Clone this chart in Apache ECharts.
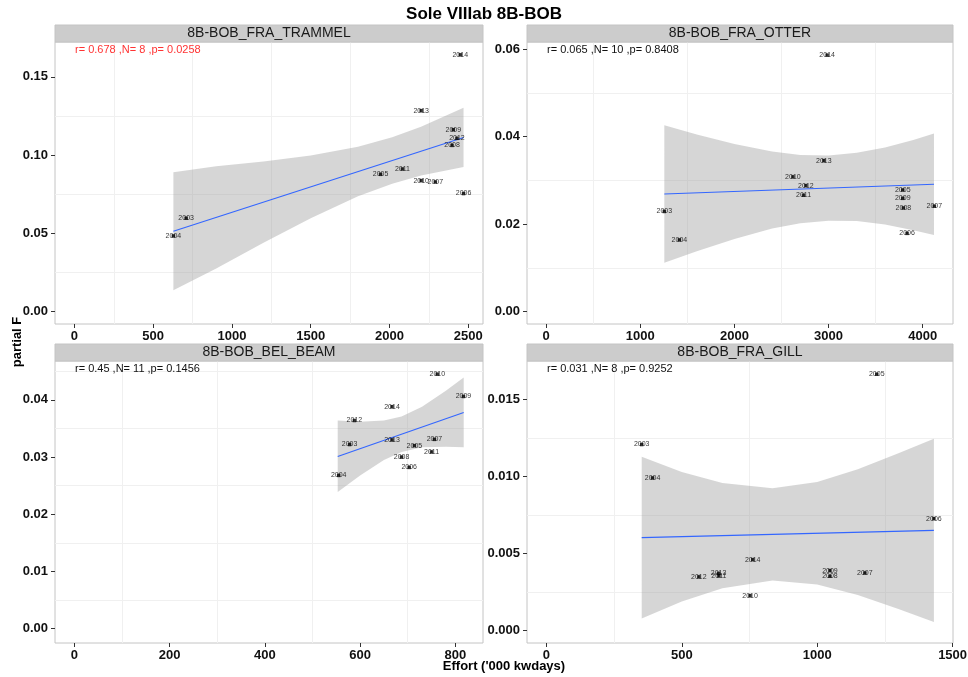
<!DOCTYPE html>
<html>
<head>
<meta charset="utf-8">
<script src="https://cdn.jsdelivr.net/npm/echarts@6/dist/echarts.min.js"></script>
<style>
  html, body { margin: 0; padding: 0; background: #ffffff; }
  #chart { width: 968px; height: 677px; }
</style>
</head>
<body>
<div id="chart"></div>
<script>
// ---- Facet titles and fit statistics ----
const panelNames = ['8B-BOB_FRA_TRAMMEL', '8B-BOB_FRA_OTTER', '8B-BOB_BEL_BEAM', '8B-BOB_FRA_GILL'];
const statTexts = [
  'r= 0.678 ,N= 8 ,p= 0.0258',
  'r= 0.065 ,N= 10 ,p= 0.8408',
  'r= 0.45 ,N= 11 ,p= 0.1456',
  'r= 0.031 ,N= 8 ,p= 0.9252'
];
const statSignificant = [true, false, false, false];

const years = [2003, 2004, 2005, 2006, 2007, 2008, 2009, 2010, 2011, 2012, 2013, 2014];

// ---- 8B-BOB_FRA_TRAMMEL ----
const trammelEffort = [709, 628, 1943, 2470, 2291, 2397, 2405, 2201, 2082, 2428, 2201, 2449];
const trammelF      = [0.0596, 0.0483, 0.0877, 0.0754, 0.0828, 0.1062, 0.1162, 0.0837, 0.0911, 0.1107, 0.1284, 0.1641];
const trammelFitX   = [628, 2470];
const trammelFitY   = [0.0513, 0.1113];
const trammelBandX  = [628, 900, 1200, 1500, 1800, 2017, 2200, 2470];
const trammelBandLo = [0.0136, 0.0275, 0.0439, 0.0596, 0.0736, 0.0816, 0.0869, 0.0923];
const trammelBandHi = [0.0890, 0.0929, 0.0959, 0.0998, 0.1054, 0.1114, 0.1181, 0.1303];

// ---- 8B-BOB_FRA_OTTER ----
const otterEffort = [1255, 1415, 3788, 3834, 4124, 3795, 3788, 2621, 2734, 2759, 2950, 2985];
const otterF      = [0.0229, 0.0164, 0.0278, 0.0179, 0.0241, 0.0237, 0.0259, 0.0308, 0.0266, 0.0288, 0.0345, 0.0586];
const otterFitX   = [1255, 4120];
const otterFitY   = [0.0269, 0.0291];
const otterBandX  = [1255, 1600, 2000, 2400, 2700, 3000, 3300, 3600, 3900, 4120];
const otterBandLo = [0.0112, 0.0138, 0.0166, 0.0190, 0.0202, 0.0208, 0.0207, 0.0199, 0.0186, 0.0175];
const otterBandHi = [0.0426, 0.0405, 0.0383, 0.0366, 0.0358, 0.0357, 0.0363, 0.0375, 0.0392, 0.0407];

// ---- 8B-BOB_BEL_BEAM ----
const beamEffort = [578, 555, 714, 703, 756, 687, 817, 762, 750, 588, 667, 667];
const beamF      = [0.0322, 0.0268, 0.0320, 0.0282, 0.0331, 0.0300, 0.0406, 0.0445, 0.0309, 0.0364, 0.0330, 0.0388];
const beamFitX   = [553, 817.5];
const beamFitY   = [0.0301, 0.0378];
const beamBandX  = [553, 600, 650, 687, 730, 780, 817.5];
const beamBandLo = [0.0239, 0.0268, 0.0295, 0.0309, 0.0317, 0.0318, 0.0317];
const beamBandHi = [0.0364, 0.0362, 0.0364, 0.0371, 0.0388, 0.0416, 0.0439];

// ---- 8B-BOB_FRA_GILL ----
const gillEffort = [352, 392, 1220, 1431, 1176, 1047, 1047, 752, 637, 563, 636, 762];
const gillF      = [0.01208, 0.00991, 0.01664, 0.00727, 0.00374, 0.00353, 0.00390, 0.00227, 0.00355, 0.00349, 0.00372, 0.00461];
const gillFitX   = [352, 1431];
const gillFitY   = [0.00604, 0.00651];
const gillBandX  = [352, 500, 650, 835, 1000, 1150, 1300, 1431];
const gillBandLo = [0.00079, 0.0019, 0.00276, 0.00325, 0.00299, 0.00231, 0.0014, 0.00056];
const gillBandHi = [0.01129, 0.0103, 0.00958, 0.00925, 0.00965, 0.01047, 0.01152, 0.01246];

// ---- Axis ranges and tick labels ----
const xMin = [-123.5, -204, -40.5, -71.5];
const xMax = [2593.5, 4322, 858, 1501.5];
const yMin = [-0.008, -0.0028, -0.0025, -0.0008];
const yMax = [0.1723, 0.0616, 0.0468, 0.0175];
const xTickValues = [[0, 500, 1000, 1500, 2000, 2500], [0, 1000, 2000, 3000, 4000], [0, 200, 400, 600, 800], [0, 500, 1000, 1500]];
const yTickValues = [[0, 0.05, 0.10, 0.15], [0, 0.02, 0.04, 0.06], [0, 0.01, 0.02, 0.03, 0.04], [0, 0.005, 0.010, 0.015]];
const yTickDecimals = [2, 2, 2, 3];
const xGridValues = [[250, 750, 1250, 1750, 2250], [500, 1500, 2500, 3500], [100, 300, 500, 700], [250, 750, 1250]];
const yGridValues = [[0.025, 0.075, 0.125], [0.01, 0.03, 0.05], [0.005, 0.015, 0.025, 0.035, 0.045], [0.0025, 0.0075, 0.0125]];

const panels = [
  { effort: trammelEffort, f: trammelF, fitX: trammelFitX, fitY: trammelFitY, bx: trammelBandX, lo: trammelBandLo, hi: trammelBandHi },
  { effort: otterEffort,   f: otterF,   fitX: otterFitX,   fitY: otterFitY,   bx: otterBandX,   lo: otterBandLo,   hi: otterBandHi },
  { effort: beamEffort,    f: beamF,    fitX: beamFitX,    fitY: beamFitY,    bx: beamBandX,    lo: beamBandLo,    hi: beamBandHi },
  { effort: gillEffort,    f: gillF,    fitX: gillFitX,    fitY: gillFitY,    bx: gillBandX,    lo: gillBandLo,    hi: gillBandHi }
];

// ---- Layout (pixels) ----
const FONT = '"Liberation Sans", Arial, Helvetica, sans-serif';
const boxes = [
  { left: 55,  top: 42,  width: 428, height: 282 },
  { left: 527, top: 42,  width: 426, height: 282 },
  { left: 55,  top: 361, width: 428, height: 282 },
  { left: 527, top: 361, width: 426, height: 282 }
];
const STRIP_H = 17;

const grids = boxes.map(b => ({
  left: b.left, top: b.top, width: b.width, height: b.height,
  show: true, borderColor: '#c4c4c4', borderWidth: 1, backgroundColor: '#ffffff',
  containLabel: false, outerBoundsMode: 'none'
}));

const xAxes = [];
const yAxes = [];
for (let i = 0; i < 4; i++) {
  xAxes.push({
    type: 'value', gridIndex: i, min: xMin[i], max: xMax[i], position: 'bottom',
    axisLine: { show: false, onZero: false },
    axisTick: { show: true, length: 4, lineStyle: { color: '#333333' }, customValues: xTickValues[i] },
    axisLabel: {
      customValues: xTickValues[i], margin: 6, color: '#111111', fontWeight: 'bold', fontSize: 13, fontFamily: FONT,
      formatter: val => String(val)
    },
    splitLine: { show: false }
  });
  yAxes.push({
    type: 'value', gridIndex: i, min: yMin[i], max: yMax[i], position: 'left',
    axisLine: { show: false, onZero: false },
    axisTick: { show: true, length: 4, lineStyle: { color: '#333333' }, customValues: yTickValues[i] },
    axisLabel: {
      customValues: yTickValues[i], margin: 7, color: '#111111', fontWeight: 'bold', fontSize: 13, fontFamily: FONT,
      formatter: (v => val => Number(val).toFixed(yTickDecimals[v]))(i)
    },
    splitLine: { show: false }
  });
}
// secondary axes carrying the light grid lines of each panel
for (let i = 0; i < 4; i++) {
  xAxes.push({
    type: 'value', gridIndex: i, min: xMin[i], max: xMax[i],
    axisLine: { show: false, onZero: false }, axisLabel: { show: false },
    axisTick: { show: false, customValues: xGridValues[i] },
    splitLine: { show: true, lineStyle: { color: '#f0f0f0', width: 1 } }
  });
  yAxes.push({
    type: 'value', gridIndex: i, min: yMin[i], max: yMax[i],
    axisLine: { show: false, onZero: false }, axisLabel: { show: false },
    axisTick: { show: false, customValues: yGridValues[i] },
    splitLine: { show: true, lineStyle: { color: '#f0f0f0', width: 1 } }
  });
}

const series = [];
panels.forEach((p, i) => {
  // confidence band around the linear fit
  series.push({
    type: 'custom', xAxisIndex: i, yAxisIndex: i, silent: true, z: 1,
    data: [[p.bx[0], p.lo[0]]],
    renderItem: (params, api) => {
      const pts = [];
      for (let k = 0; k < p.bx.length; k++) pts.push(api.coord([p.bx[k], p.hi[k]]));
      for (let k = p.bx.length - 1; k >= 0; k--) pts.push(api.coord([p.bx[k], p.lo[k]]));
      return { type: 'polygon', shape: { points: pts }, style: { fill: 'rgba(153,153,153,0.4)' } };
    }
  });
  // fitted line
  series.push({
    type: 'line', xAxisIndex: i, yAxisIndex: i, z: 3, silent: true,
    data: p.fitX.map((x, k) => [x, p.fitY[k]]),
    symbol: 'none', lineStyle: { color: '#3366ff', width: 1.1 }
  });
  // yearly points labelled by year
  series.push({
    type: 'scatter', xAxisIndex: i, yAxisIndex: i, z: 4, silent: true,
    data: p.effort.map((x, k) => [x, p.f[k], years[k]]),
    symbol: 'rect', symbolSize: 3.5,
    itemStyle: { color: '#000000' },
    label: {
      show: true, position: 'inside', formatter: q => String(q.value[2]),
      color: '#000000', fontSize: 7, fontFamily: FONT
    }
  });
});

// ---- Strips, statistics text, titles ----
const graphics = [];
boxes.forEach((b, i) => {
  graphics.push({
    type: 'rect', silent: true, z: 10,
    shape: { x: b.left, y: b.top - STRIP_H, width: b.width, height: STRIP_H },
    style: { fill: '#cccccc', stroke: '#c4c4c4', lineWidth: 1 }
  });
  graphics.push({
    type: 'text', silent: true, z: 11,
    x: b.left + b.width / 2, y: b.top - STRIP_H / 2,
    style: { text: panelNames[i], fill: '#1a1a1a', font: '14px ' + FONT, align: 'center', verticalAlign: 'middle', textAlign: 'center', textVerticalAlign: 'middle' }
  });
  graphics.push({
    type: 'text', silent: true, z: 11,
    x: b.left + 20, y: b.top + 8,
    style: { text: statTexts[i], fill: statSignificant[i] ? '#ff3333' : '#111111', font: '11px ' + FONT, align: 'left', verticalAlign: 'middle', textAlign: 'left', textVerticalAlign: 'middle' }
  });
});
graphics.push({
  type: 'text', silent: true, x: 484, y: 14,
  style: { text: 'Sole VIIIab 8B-BOB', fill: '#000000', font: 'bold 17px ' + FONT, align: 'center', verticalAlign: 'middle', textAlign: 'center', textVerticalAlign: 'middle' }
});
graphics.push({
  type: 'text', silent: true, x: 504, y: 666,
  style: { text: "Effort ('000 kwdays)", fill: '#000000', font: 'bold 13px ' + FONT, align: 'center', verticalAlign: 'middle', textAlign: 'center', textVerticalAlign: 'middle' }
});
graphics.push({
  type: 'text', silent: true, x: 17, y: 342, rotation: Math.PI / 2,
  style: { text: 'partial F', fill: '#000000', font: 'bold 13px ' + FONT, align: 'center', verticalAlign: 'middle', textAlign: 'center', textVerticalAlign: 'middle' }
});

const chart = echarts.init(document.getElementById('chart'), null, { renderer: 'canvas' });
chart.setOption({
  animation: false,
  backgroundColor: '#ffffff',
  grid: grids,
  xAxis: xAxes,
  yAxis: yAxes,
  series: series,
  graphic: { elements: graphics }
});
</script>
</body>
</html>
